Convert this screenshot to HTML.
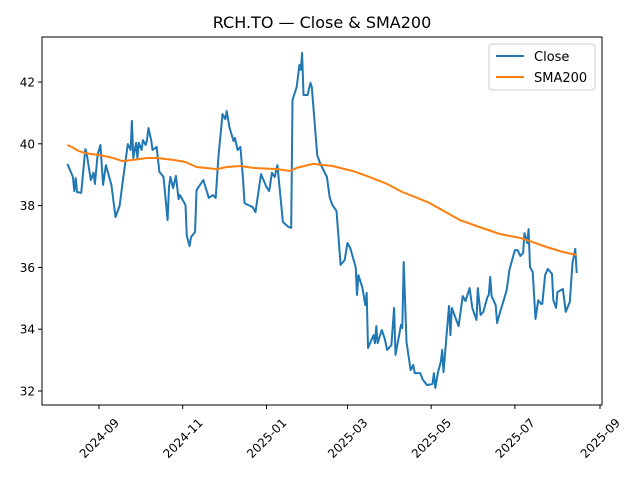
<!DOCTYPE html>
<html><head><meta charset="utf-8"><style>
body{margin:0;background:#fff;font-family:"Liberation Sans","DejaVu Sans",sans-serif}
svg text{font-family:"DejaVu Sans","Liberation Sans",sans-serif}
</style></head><body>
<svg id="chart" width="640" height="480" viewBox="0 0 640 480" xmlns="http://www.w3.org/2000/svg">
<rect width="640" height="480" fill="#fff"/>
<text x="322" y="28" font-size="16" text-anchor="middle">RCH.TO — Close &amp; SMA200</text>
<g id="plot"></g>
<rect x="42" y="37" width="560" height="368" fill="none" stroke="#000" stroke-width="1"/>
<g>
<rect x="489" y="44" width="106" height="46" rx="3" fill="#fff" stroke="#ccc"/>
<line x1="496" y1="56" x2="524" y2="56" stroke="#1f77b4" stroke-width="2"/>
<text x="534" y="61" font-size="13">Close</text>
<line x1="496" y1="77" x2="524" y2="77" stroke="#ff7f0e" stroke-width="2"/>
<text x="534" y="82" font-size="13">SMA200</text>
</g>
</svg>
<script>
const closeDays=[-23,-19,-18,-17,-16,-13,-10,-9,-6,-4,-3,-1,1,3,5,9,12,15,17,21,23,24,25,27,28,29,31,32,34,35,36,38,39,42,44,47,50,51,52,54,56,58,59,63,64,66,67,70,71,76,80,83,85,87,90,92,93,95,98,99,101,103,105,106,110,112,114,118,122,124,126,128,130,134,138,140,141,144,146,147,148,149,152,154,155,159,161,166,168,170,173,176,179,181,183,187,188,189,192,194,195,196,200,201,202,203,206,208,210,213,215,216,220,221,222,224,227,229,230,234,236,239,243,244,245,247,249,250,251,255,256,257,262,265,267,270,272,275,276,278,280,283,284,285,286,289,290,292,296,297,299,303,305,307,309,310,312,313,314,316,318,320,322,323,325,327,330,331,333,334,338,340,343,345,347,348];
const closeValues=[39.35,38.93,38.47,38.89,38.44,38.41,39.83,39.70,38.83,39.06,38.70,39.64,39.96,38.67,39.31,38.67,37.63,37.99,38.67,39.99,39.80,40.74,39.54,40.03,39.54,40.03,39.80,40.12,39.96,40.12,40.51,40.12,39.80,39.90,39.09,38.93,37.53,38.60,38.93,38.57,38.96,38.21,38.34,38.02,37.02,36.69,36.98,37.15,38.50,38.83,38.25,38.34,38.25,39.57,40.96,40.80,41.06,40.54,40.09,40.19,39.80,39.90,38.83,38.08,37.99,37.95,37.79,39.02,38.60,38.47,39.06,38.93,39.31,37.47,37.31,37.28,41.42,41.84,42.55,42.39,42.94,41.58,41.58,41.97,41.84,39.64,39.38,38.93,38.28,38.02,37.83,36.08,36.24,36.79,36.63,36.01,35.11,35.75,35.33,34.78,35.17,33.39,33.81,33.55,34.10,33.55,33.97,33.72,33.33,33.49,34.69,33.17,34.14,34.04,36.17,33.59,32.68,32.84,32.58,32.58,32.36,32.19,32.23,32.58,32.10,32.61,32.94,33.33,32.61,34.75,33.81,34.69,34.10,35.07,34.91,35.33,34.69,34.30,35.33,34.46,34.56,35.04,35.11,35.69,35.07,34.78,34.20,34.52,35.11,35.27,35.92,36.56,36.56,36.37,36.47,37.11,36.79,37.24,36.01,35.85,34.33,34.94,34.82,34.82,35.75,35.95,35.79,34.94,34.69,35.20,35.30,34.56,34.88,36.14,36.60,35.82];
const smaDays=[-23,-20,-15,-10,-1,8,17,25,35,42,54,63,71,86,93,103,112,130,139,144,156,170,185,197,210,221,232,241,263,275,292,307,314,326,338,348];
const smaValues=[39.96,39.90,39.77,39.70,39.64,39.57,39.44,39.48,39.54,39.54,39.48,39.41,39.25,39.18,39.25,39.28,39.22,39.18,39.12,39.22,39.35,39.28,39.12,38.93,38.70,38.44,38.25,38.08,37.53,37.34,37.08,36.95,36.85,36.66,36.50,36.40];
const yTicks=[32,34,36,38,40,42];
const xTickLabels=["2024-09","2024-11","2025-01","2025-03","2025-05","2025-07","2025-09"];
const xTickDays=[0,61,122,181,242,303,365];

const NS="http://www.w3.org/2000/svg";
const X0=99, PXD=1.3726, Y0=391, PXV=30.9;
function xs(d){return X0+d*PXD;}
function ys(v){return Y0-(v-32)*PXV;}
const g=document.getElementById('plot');
function mk(tag,attrs){const e=document.createElementNS(NS,tag);for(const k in attrs)e.setAttribute(k,attrs[k]);g.appendChild(e);return e;}
yTicks.forEach(v=>{
  const y=ys(v);
  const t=mk('line',{x1:38,x2:42,y1:y,y2:y,stroke:'#000'});
  
  
  const l=mk('text',{x:35,y:y+4.5,'font-size':12,'text-anchor':'end'});
  
  
  l.textContent=v;
});
xTickDays.forEach((d,i)=>{
  const x=xs(d);
  const t=mk('line',{x1:x,x2:x,y1:405,y2:409,stroke:'#000'});
  
  
  const cy=438;
  const l=mk('text',{x:x,y:cy+4.5,'font-size':12,'text-anchor':'middle',transform:`rotate(-45 ${x} ${cy})`});
  
  
  l.textContent=xTickLabels[i];
});
function line(days,vals,color,name){
  const p=days.map((d,i)=>xs(d).toFixed(1)+','+ys(vals[i]).toFixed(1)).join(' ');
  const e=mk('polyline',{points:p,fill:'none',stroke:color,'stroke-width':2,'stroke-linejoin':'round'});
  
  
}
line(closeDays,closeValues,'#1f77b4','close-line');
line(smaDays,smaValues,'#ff7f0e','sma200-line');
</script>
</body></html>
